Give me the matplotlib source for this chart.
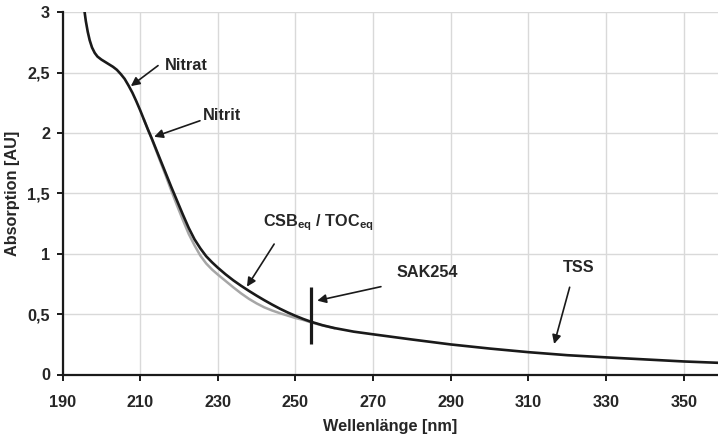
import matplotlib
matplotlib.use("Agg")
import matplotlib.pyplot as plt

plt.rcParams['font.family'] = ['Liberation Sans', 'DejaVu Sans']
plt.rcParams['mathtext.fontset'] = 'custom'
plt.rcParams['mathtext.rm'] = 'Liberation Sans'
plt.rcParams['mathtext.bf'] = 'Liberation Sans:bold'

# black spectrum (total)
wl_black = [195.5, 196, 196.5, 197, 197.6, 198.3, 199, 200, 201, 202, 203, 204, 205, 206,
            207, 208, 209, 210, 211, 212, 213, 214, 215, 216.5, 218, 219.5, 221, 222.5,
            224, 225.5, 227, 228.5, 230, 232, 234, 236, 238, 240, 242, 244, 246, 248,
            250, 252, 254, 257, 260, 265, 270, 280, 290, 300, 310, 320, 330, 340, 350, 358.8]
abs_black = [3.05, 2.93, 2.84, 2.77, 2.71, 2.665, 2.635, 2.61, 2.59, 2.57, 2.55, 2.525, 2.49, 2.45,
             2.395, 2.335, 2.265, 2.19, 2.11, 2.03, 1.955, 1.875, 1.795, 1.675, 1.555, 1.44, 1.325, 1.215,
             1.12, 1.045, 0.98, 0.93, 0.885, 0.83, 0.78, 0.735, 0.693, 0.653, 0.615, 0.579, 0.545, 0.514,
             0.486, 0.46, 0.437, 0.408, 0.385, 0.355, 0.333, 0.29, 0.249, 0.215, 0.185, 0.16, 0.142, 0.125, 0.108, 0.097]

# grey spectrum (without organic fraction)
wl_grey = [211, 212, 213, 214, 215, 216.5, 218, 219.5, 221, 222.5, 224, 225.5, 227, 228.5,
           230, 232, 234, 236, 238, 240, 242, 244, 246, 248, 250, 252, 254, 257, 260]
abs_grey = [2.11, 2.03, 1.95, 1.865, 1.78, 1.655, 1.525, 1.40, 1.28, 1.165, 1.07, 0.985, 0.92, 0.87,
            0.828, 0.775, 0.722, 0.672, 0.627, 0.589, 0.556, 0.53, 0.508, 0.488, 0.468, 0.452, 0.432, 0.406, 0.384]

x_ticks = [190, 210, 230, 250, 270, 290, 310, 330, 350]
y_ticks = [0, 0.5, 1, 1.5, 2, 2.5, 3]
y_ticklabels = ['0', '0,5', '1', '1,5', '2', '2,5', '3']

sak_x = 254
sak_range = (0.25, 0.726)

# annotations: label, text position (left, baseline), arrow tail, arrow tip
labels = ['Nitrat', 'Nitrit', r'CSB$_{\mathbf{eq}}$ / TOC$_{\mathbf{eq}}$', 'SAK254', 'TSS']
text_pos = [(216.4, 2.523), (226.2, 2.109), (241.6, 1.225), (276.1, 0.808), (318.9, 0.849)]
arrow_tail = [(214.6, 2.56), (225.4, 2.103), (244.5, 1.081), (272.0, 0.728), (320.6, 0.723)]
arrow_tip = [(207.6, 2.39), (213.6, 1.97), (237.5, 0.728), (255.6, 0.612), (316.6, 0.253)]

fig = plt.figure(figsize=(7.18, 4.38), dpi=100)
ax = fig.add_axes([62.5 / 718, (438 - 374.5) / 438, 1 - 62.5 / 718, 362 / 438])

ax.plot(wl_grey, abs_grey, color='#a6a6a6', lw=1.8, zorder=3)
ax.plot(wl_black, abs_black, color='#1a1a1a', lw=1.9, zorder=4)
ax.plot([sak_x, sak_x], sak_range, color='#1a1a1a', lw=2.3, zorder=5, solid_capstyle='butt')

txtcol = '#262626'
for lab, tp, tail, tip in zip(labels, text_pos, arrow_tail, arrow_tip):
    ax.text(tp[0], tp[1], lab, fontsize=11.7, fontweight='bold', color=txtcol,
            ha='left', va='baseline', zorder=6)
    ax.annotate('', xy=tip, xytext=tail,
                arrowprops=dict(arrowstyle='-|>', lw=1.2, color='#1a1a1a',
                                mutation_scale=13, shrinkA=0, shrinkB=0),
                zorder=6)

ax.set_xlim(190, 358.8)
ax.set_ylim(0, 3)
ax.set_xticks(x_ticks)
ax.set_yticks(y_ticks)
ax.set_yticklabels(y_ticklabels)
ax.grid(True, color='#d9d9d9', lw=1.0, zorder=0)
ax.set_axisbelow(True)

for s in ['top', 'right']:
    ax.spines[s].set_visible(False)
for s in ['left', 'bottom']:
    ax.spines[s].set_linewidth(1.6)
    ax.spines[s].set_color('#1a1a1a')

ax.tick_params(axis='x', direction='out', length=4, width=1.4, pad=11,
               labelsize=11.7, colors='#1a1a1a', labelcolor=txtcol)
ax.tick_params(axis='y', direction='out', length=4, width=1.4, pad=5,
               labelsize=11.7, colors='#1a1a1a', labelcolor=txtcol)
for lab in ax.get_xticklabels() + ax.get_yticklabels():
    lab.set_fontweight('bold')

ax.set_xlabel('Wellenlänge [nm]', fontsize=11.7, fontweight='bold', color=txtcol, labelpad=6)
ax.set_ylabel('Absorption [AU]', fontsize=11.7, fontweight='bold', color=txtcol, labelpad=5)

fig.savefig('out.png', dpi=100)
